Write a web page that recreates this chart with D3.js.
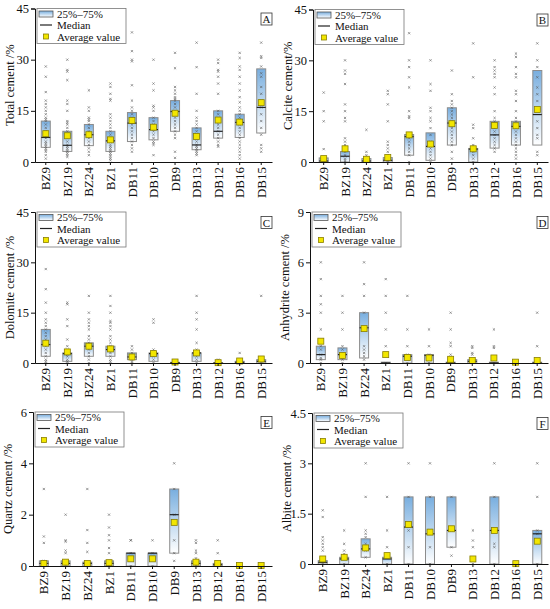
<!DOCTYPE html>
<html>
<head>
<meta charset="utf-8">
<script src="https://cdn.jsdelivr.net/npm/d3@7"></script>
<style>
  body { margin: 0; background: #fff; }
  text { font-family: "Liberation Serif", "Times New Roman", serif; fill: #111; }
</style>
</head>
<body>
<svg id="chart" width="550" height="609"></svg>
<script>
// well names along the x axis (same for all six panels)
var wells = ["BZ9", "BZ19", "BZ24", "BZ1", "DB11", "DB10", "DB9", "DB13", "DB12", "DB16", "DB15"];

// panel letters, axis titles and y ticks
var letters = ["A", "B", "C", "D", "E", "F"];
var yTitles = ["Total cement /%", "Calcite cement/%", "Dolomite cement /%",
               "Anhydrite cement /%", "Quartz cement /%", "Albite cement /%"];
var yTicks = [[0, 15, 30, 45], [0, 15, 30, 45], [0, 15, 30, 45],
              [0, 3, 6, 9], [0, 2, 4, 6], [0, 1.5, 3, 4.5]];

// A - total cement
var q1A = [4.3, 3.1, 4.8, 3.1, 6, 6.5, 9, 3.6, 7, 7.2, 8.5];
var medA = [7.2, 4.9, 8, 6.2, 11.4, 9.5, 14.8, 5, 9, 11.6, 16];
var q3A = [12, 9, 11, 9, 14.5, 13, 18, 10, 15, 14, 27.3];
var meanA = [8.3, 7.7, 8, 6.5, 12.2, 10.2, 14.3, 7.5, 12.3, 11.7, 17.4];
var ptsA = [
  [28, 25, 20.5, 18, 17, 16, 15, 14, 13, 12.5, 12, 11, 10, 9, 8, 7.5, 7, 6, 5.5, 5, 4.5, 4, 3.5, 3, 2, 1],
  [35, 30, 27, 26.5, 24, 18, 17, 15, 12, 11.5, 11, 10, 9, 8, 7, 6, 5, 4.5, 4, 3.5, 3, 2.5, 2, 1.5],
  [21, 16, 15, 13, 12.5, 12, 11, 10, 9, 8, 7, 6, 5, 4, 3, 2],
  [23, 22, 20, 18.5, 18, 14, 13, 12, 11, 10, 9, 8, 7, 6, 5, 4.5, 4, 3.5, 3, 2.5, 2, 1.5, 1, 0.5],
  [38, 32.5, 30, 29.5, 22.5, 18, 16, 15, 14, 13, 12, 11, 10, 9, 8, 7, 6, 5, 4, 3],
  [30, 23, 21, 16.5, 16, 15, 13, 12, 11, 10, 9, 8, 7, 6, 5.5, 5, 2],
  [32, 27.5, 22, 21, 20, 19, 18.5, 18, 17, 16, 15, 14, 13, 12, 11, 10, 9, 8, 7, 3, 1.2],
  [35, 27.8, 20, 15, 13, 12, 11, 10, 9, 8, 7, 6, 5, 4.5, 4, 3.5, 3, 2.5, 2],
  [30, 29, 27, 26.5, 25, 23, 20, 15, 14, 13, 12, 11, 10, 9, 8, 7, 6, 5, 4.5],
  [32, 30.5, 28, 27, 25, 23, 21, 19, 17.5, 16, 15, 14, 13, 12, 11, 10, 9, 8, 7, 6, 5, 4, 3, 2, 1],
  [35, 31, 30.5, 28, 26, 25, 22, 20, 18, 16, 14, 12, 10, 8, 5, 4, 3]
];

// B - calcite cement
var q1B = [0, 0, 0, 0, 2, 0.5, 5, 0, 4.1, 5, 5];
var medB = [0.3, 1.7, 0.3, 0.5, 7.5, 4.6, 11.5, 3.8, 8, 10.5, 14];
var q3B = [1.2, 3.1, 1, 1.3, 8.1, 8.6, 16, 4, 12, 12, 27];
var meanB = [1, 3.9, 0.8, 1.3, 8, 5.3, 11.3, 3.9, 10.8, 10.7, 15.5];
var ptsB = [
  [20.5, 15, 12, 3.8, 1, 0.5, 0],
  [30, 27, 26, 23, 17, 15, 13, 12, 7, 6, 5, 4, 3, 2, 1, 0.5, 0],
  [9.5, 3, 2, 1, 0.5, 0],
  [21, 20, 17, 12, 6, 5, 4, 3, 2, 1, 0.5, 0],
  [38, 30, 28, 25, 22, 15, 13.5, 13, 8, 7, 6, 5, 4, 3, 2, 0],
  [30, 23, 21, 16, 15, 13, 12, 10, 8, 6, 5, 4, 3, 2, 1, 0],
  [27, 20, 18, 17, 16, 15, 14, 13, 12, 11, 10, 9, 8, 7, 6, 5, 3, 1],
  [35, 25, 11, 10, 7, 5, 4, 3, 2, 1, 0],
  [30, 28, 27, 26, 25, 22, 20, 15, 13, 12, 11, 10, 9, 8, 7, 6, 5, 4, 3],
  [32, 31, 28, 26, 25, 21, 20, 18, 15, 13, 12, 11, 10, 9, 8, 7, 6, 5, 4, 3, 2, 1],
  [35, 30, 28, 25, 22, 20, 18, 15, 12, 10, 8, 7, 3, 2]
];

// C - dolomite cement
var q1C = [2, 0.5, 2, 2, 1, 0.5, 0, 0.5, 0, 0, 0];
var medC = [5.5, 2.8, 5, 4, 1.8, 2.8, 0.1, 3, 0, 0.2, 0.5];
var q3C = [10, 3, 6, 5, 3, 3, 0.2, 3, 0.1, 0.5, 1];
var meanC = [5.9, 3.3, 5, 4.2, 1.8, 2.8, 0.3, 3, 0.1, 0.6, 1.2];
var ptsC = [
  [28, 22, 18, 15, 13, 12, 11, 10, 9, 8, 7, 6, 5, 4, 3, 2, 1, 0.5, 0],
  [18, 17.5, 13, 11, 7, 5, 4, 3, 2.5, 2, 1, 0.5, 0],
  [20, 15, 13, 12, 11, 10, 8, 7, 6, 5, 4, 3, 2, 1, 0],
  [20, 17, 15, 12.5, 12, 11, 10, 8, 7, 6, 5, 4, 3, 2, 1, 0.5, 0],
  [5, 4, 3, 2, 1, 0.5, 0],
  [13, 12, 4, 3, 2, 1, 0],
  [0.5, 0],
  [20, 15, 13, 10, 6, 4, 3, 2, 1, 0],
  [1, 0],
  [3, 0.5, 0],
  [20, 1, 0.5, 0]
];

// D - anhydrite cement
var q1D = [0.2, 0.2, 0.3, 0, 0, 0, 0, 0, 0, 0, 0];
var medD = [0.5, 0.5, 2.1, 0, 0.4, 0.45, 0, 0.1, 0, 0, 0];
var q3D = [1, 0.9, 3, 0.05, 0.5, 0.5, 0.05, 0.2, 0.05, 0, 0.05];
var meanD = [1.3, 0.45, 2.05, 0.5, 0.33, 0.3, 0.22, 0.15, 0.3, 0.05, 0.15];
var ptsD = [
  [7, 6, 5, 4, 3.5, 3, 2, 1, 0.8, 0.5, 0.3, 0.2, 0],
  [4, 3, 2, 1, 0.8, 0.5, 0.3, 0.2, 0],
  [7, 6, 4.7, 4, 3, 2, 1, 0.8, 0.6, 0.4, 0.2],
  [7, 5, 4, 3, 2, 1, 0.5, 0],
  [4, 2, 1, 0.5, 0.3, 0],
  [2, 1, 0.5, 0.3, 0],
  [3, 2, 1.2, 1, 0.5, 0],
  [1, 0.9, 0.6, 0.5, 0.2, 0],
  [2, 1, 0.9, 0],
  [0],
  [3, 1, 0]
];

// E - quartz cement
var q1E = [0, 0, 0, 0, 0, 0, 0.5, 0, 0, 0, 0];
var medE = [0.1, 0.1, 0.1, 0.1, 0.5, 0.5, 2, 0.1, 0.05, 0, 0];
var q3E = [0.2, 0.2, 0.15, 0.2, 0.5, 0.5, 3, 0.2, 0.1, 0, 0];
var meanE = [0.1, 0.15, 0.1, 0.13, 0.28, 0.28, 1.7, 0.15, 0.1, 0.02, 0.02];
var ptsE = [
  [3, 1.15, 0.9, 0.2, 0.1, 0],
  [2, 1, 0.95, 0.6, 0.5, 0.2, 0],
  [3, 1.4, 0.9, 0.55, 0.15, 0],
  [2, 1.5, 1.2, 1, 0.7, 0.5, 0.2, 0],
  [1, 1, 0.5, 0],
  [1, 0.5, 0],
  [4, 3, 2, 1, 0.5, 0.2],
  [1, 0.9, 0.6, 0.5, 0.3, 0.2, 0],
  [1, 0.5, 0.1, 0],
  [0],
  [0]
];

// F - albite cement
var q1F = [0, 0, 0.2, 0, 0, 0, 0.5, 0, 0, 0, 0];
var medF = [0.05, 0.15, 0.45, 0.15, 1.1, 0.9, 1, 0, 1, 0, 0.9];
var q3F = [0.1, 0.2, 0.75, 0.2, 2, 2, 2, 0, 2, 0, 1];
var meanF = [0.15, 0.2, 0.48, 0.25, 1.18, 0.95, 1.05, 0.15, 1, 0.01, 0.68];
var ptsF = [
  [1.6, 1.4, 0.8, 0.7, 0.6, 0.5, 0.4, 0.2, 0],
  [1, 0.6, 0.4, 0.3, 0.2, 0],
  [3, 2, 1, 0.9, 0.8, 0.6, 0.4, 0.2],
  [2, 1, 0.5, 0.2, 0],
  [3, 2, 1, 0.5, 0],
  [3, 2, 1, 0.5, 0],
  [2, 1, 0.5, 0.25],
  [1, 0.7, 0.5, 0],
  [3, 2, 1, 0.6, 0.5, 0],
  [0],
  [3, 2, 1, 0.9, 0]
];

var q1s = [q1A, q1B, q1C, q1D, q1E, q1F];
var meds = [medA, medB, medC, medD, medE, medF];
var q3s = [q3A, q3B, q3C, q3D, q3E, q3F];
var means = [meanA, meanB, meanC, meanD, meanE, meanF];
var pts = [ptsA, ptsB, ptsC, ptsD, ptsE, ptsF];

// plot frames
var frames = [
  { left: 35, top: 8.5, right: 272, bottom: 162 },
  { left: 313, top: 9.5, right: 548, bottom: 162 },
  { left: 35, top: 212, right: 272, bottom: 363 },
  { left: 310, top: 212, right: 548, bottom: 363 },
  { left: 33, top: 412, right: 272, bottom: 566 },
  { left: 312, top: 413, right: 548, bottom: 564 }
];

var svg = d3.select("#chart");

var grad = svg.append("defs").append("linearGradient")
  .attr("id", "boxFill")
  .attr("x1", 0).attr("y1", 0).attr("x2", 0).attr("y2", 1);
grad.append("stop").attr("offset", "0%").attr("stop-color", "#78aedf");
grad.append("stop").attr("offset", "100%").attr("stop-color", "#ffffff");

var boxW = 9;
var meanSize = 6;

letters.forEach(function (letter, p) {
  var f = frames[p];
  var ticks = yTicks[p];
  var g = svg.append("g");

  var x = d3.scaleBand(wells, [f.left, f.right]);
  var y = d3.scaleLinear([0, ticks[ticks.length - 1]], [f.bottom, f.top]);

  var rows = wells.map(function (w, i) {
    return { well: w, q1: q1s[p][i], med: meds[p][i], q3: q3s[p][i], mean: means[p][i], pts: pts[p][i] };
  });

  // boxes
  g.selectAll("rect.box").data(rows).enter().append("rect")
    .attr("class", "box")
    .attr("x", function (d) { return x(d.well) + x.bandwidth() / 2 - boxW / 2; })
    .attr("y", function (d) { return y(d.q3); })
    .attr("width", boxW)
    .attr("height", function (d) { return Math.max(0, y(d.q1) - y(d.q3)); })
    .style("fill", "url(#boxFill)")
    .style("stroke", "#8c8c8c")
    .style("stroke-width", 1);

  // sample points as small crosses
  var flat = [];
  rows.forEach(function (d) {
    d.pts.forEach(function (v) { flat.push({ well: d.well, v: v }); });
  });
  g.selectAll("path.pt").data(flat).enter().append("path")
    .attr("class", "pt")
    .attr("d", function (d) {
      var cx = x(d.well) + x.bandwidth() / 2, cy = y(d.v), s = 1.1;
      return "M" + (cx - s) + "," + (cy - s) + "L" + (cx + s) + "," + (cy + s) +
             "M" + (cx - s) + "," + (cy + s) + "L" + (cx + s) + "," + (cy - s);
    })
    .style("stroke", "#555")
    .style("stroke-width", 0.8)
    .style("opacity", 0.75);

  // median lines
  g.selectAll("line.med").data(rows.filter(function (d) { return d.q3 > d.q1; })).enter().append("line")
    .attr("class", "med")
    .attr("x1", function (d) { return x(d.well) + x.bandwidth() / 2 - boxW / 2; })
    .attr("x2", function (d) { return x(d.well) + x.bandwidth() / 2 + boxW / 2; })
    .attr("y1", function (d) { return y(d.med); })
    .attr("y2", function (d) { return y(d.med); })
    .style("stroke", "#222")
    .style("stroke-width", 1.2);

  // means
  g.selectAll("rect.mean").data(rows).enter().append("rect")
    .attr("class", "mean")
    .attr("x", function (d) { return x(d.well) + x.bandwidth() / 2 - meanSize / 2; })
    .attr("y", function (d) { return y(d.mean) - meanSize / 2; })
    .attr("width", meanSize)
    .attr("height", meanSize)
    .style("fill", "#f2e600")
    .style("stroke", "#8a7f00")
    .style("stroke-width", 0.8);

  // axes
  var yAxis = g.append("g")
    .attr("transform", "translate(" + f.left + ",0)")
    .call(d3.axisLeft(y).tickValues(ticks).tickSize(4).tickPadding(2).tickFormat(d3.format("")));
  yAxis.selectAll("text").style("font-size", "12.5px").style("font-family", "Liberation Serif");

  var xAxis = g.append("g")
    .attr("transform", "translate(0," + f.bottom + ")")
    .call(d3.axisBottom(x).tickSize(3).tickSizeOuter(0));
  xAxis.selectAll("text")
    .attr("transform", "rotate(-90)")
    .attr("x", -5).attr("y", 0).attr("dy", "0.35em")
    .style("text-anchor", "end")
    .style("font-size", "13px")
    .style("font-family", "Liberation Serif");
  g.selectAll(".domain, .tick line").style("stroke", "#111");

  // y title
  g.append("text")
    .attr("transform", "translate(" + (f.left - 21) + "," + ((f.top + f.bottom) / 2) + ") rotate(-90)")
    .attr("text-anchor", "middle")
    .style("font-size", "12.5px")
    .text(yTitles[p]);

  // legend
  var lg = g.append("g").attr("transform", "translate(" + (f.left + 2) + "," + f.top + ")");
  lg.append("rect").attr("x", 0).attr("y", 0).attr("width", 89).attr("height", 35)
    .style("fill", "#fff").style("stroke", "#777").style("stroke-width", 0.8);
  lg.append("rect").attr("x", 2).attr("y", 2.5).attr("width", 14).attr("height", 6)
    .style("fill", "url(#boxFill)").style("stroke", "#555").style("stroke-width", 0.8);
  lg.append("line").attr("x1", 3).attr("x2", 15).attr("y1", 16.5).attr("y2", 16.5)
    .style("stroke", "#222").style("stroke-width", 1.2);
  lg.append("rect").attr("x", 6.5).attr("y", 25.5).attr("width", 5).attr("height", 5)
    .style("fill", "#f2e600").style("stroke", "#8a7f00").style("stroke-width", 0.8);
  var legendText = ["25%\u201375%", "Median", "Average value"];
  lg.selectAll("text.leg").data(legendText).enter().append("text")
    .attr("class", "leg")
    .attr("x", 20)
    .attr("y", function (d, i) { return 9 + i * 11.7; })
    .style("font-size", "11px")
    .text(function (d) { return d; });

  // panel letter
  var lb = g.append("g").attr("transform", "translate(" + (f.right - 11) + "," + (f.top + 4.5) + ")");
  lb.append("rect").attr("width", 11).attr("height", 12)
    .style("fill", "#fff").style("stroke", "#333").style("stroke-width", 0.8);
  lb.append("text").attr("x", 5.5).attr("y", 10).attr("text-anchor", "middle")
    .style("font-size", "11px").text(letter);
});
</script>
</body>
</html>
